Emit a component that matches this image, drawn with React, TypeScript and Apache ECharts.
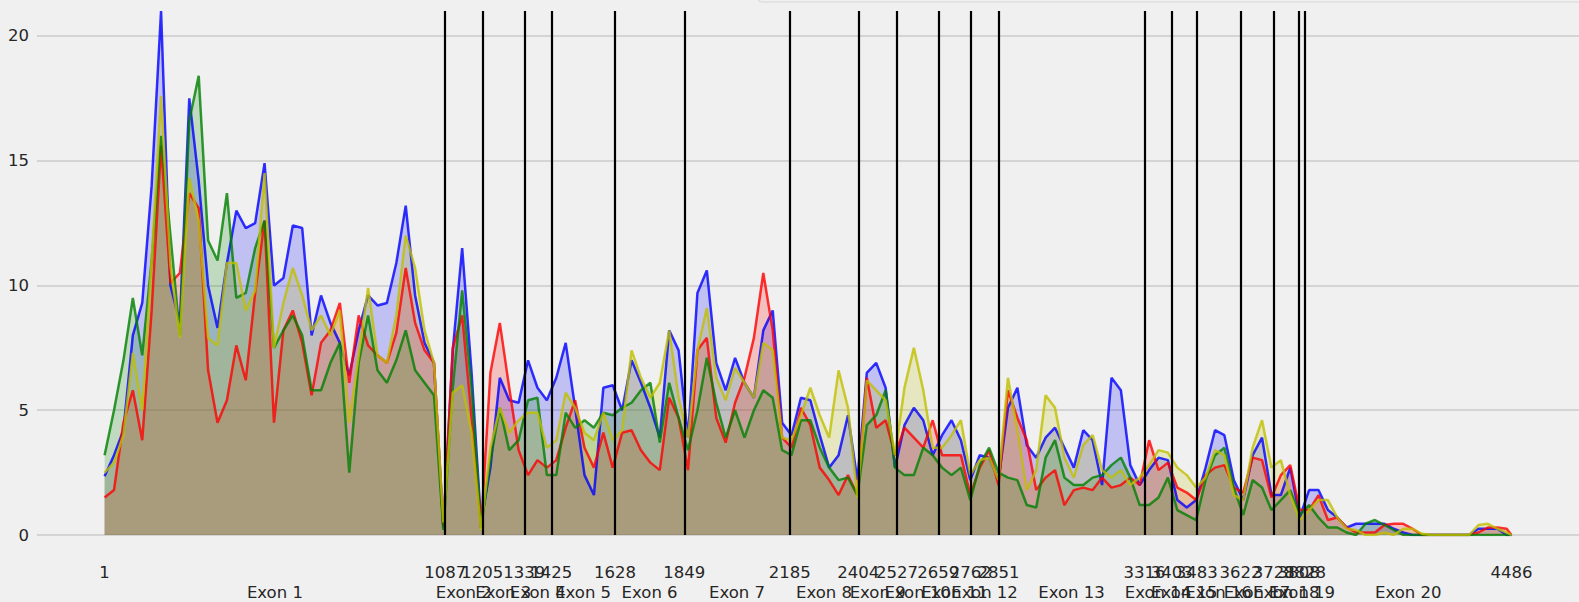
import React, { useEffect, useRef } from "react";
import * as echarts from "echarts";

// Sample positions (read grid, every 30 bp) plus last base
const positions: number[] = Array.from({ length: 150 }, (_, k) => 1 + 30 * k).concat([4486]);

const blueCov = [
  2.35, 3.2, 4.2, 8.0, 9.3, 14.0, 21.0, 10.0, 8.5, 17.5,
  14.2, 10.0, 8.3, 10.9, 13.0, 12.3, 12.5, 14.9, 10.0, 10.3,
  12.4, 12.3, 8.0, 9.6, 8.5, 7.7, 6.4, 8.2, 9.6, 9.2,
  9.3, 10.9, 13.2, 9.6, 7.7, 6.9, 0.3, 7.4, 11.5, 6.5,
  0.5, 2.7, 6.3, 5.4, 5.3, 7.0, 5.9, 5.4, 6.3, 7.7,
  5.1, 2.4, 1.6, 5.9, 6.0, 5.0, 7.0, 6.1, 5.1, 3.9,
  8.2, 7.4, 3.9, 9.7, 10.6, 6.9, 5.8, 7.1, 6.1, 5.5,
  8.2, 9.0, 4.5, 4.0, 5.5, 5.4, 4.0, 2.7, 3.2, 4.8,
  2.2, 6.5, 6.9, 5.9, 2.7, 4.4, 5.1, 4.6, 3.2, 4.0,
  4.6, 3.8, 2.2, 3.2, 3.1, 2.2, 5.1, 5.9, 3.6, 3.1,
  3.9, 4.3, 3.5, 2.7, 4.2, 3.8, 2.0, 6.3, 5.8, 2.8,
  2.0, 2.6, 3.1, 3.0, 1.4, 1.1, 1.4, 2.7, 4.2, 4.0,
  2.2, 1.4, 3.2, 3.9, 1.6, 1.6, 2.7, 0.7, 1.8, 1.8,
  1.0, 0.7, 0.3, 0.45, 0.45, 0.45, 0.45, 0.25, 0.1, 0,
  0, 0, 0, 0, 0, 0, 0.25, 0.25, 0.25, 0,
  0,
];

const redCov = [
  1.5, 1.8, 4.5, 5.8, 3.8, 9.0, 15.6, 10.1, 10.5, 13.7,
  13.1, 6.6, 4.5, 5.4, 7.6, 6.2, 9.7, 12.6, 4.5, 8.2,
  9.0, 7.7, 5.6, 7.7, 8.2, 9.3, 6.1, 8.8, 7.6, 7.2,
  6.9, 8.1, 10.7, 8.5, 7.4, 6.9, 0.3, 7.5, 8.8, 4.7,
  0.3, 6.5, 8.5, 5.9, 3.4, 2.4, 3.0, 2.7, 3.0, 4.3,
  5.4, 3.5, 2.7, 4.1, 2.7, 4.1, 4.2, 3.4, 2.9, 2.6,
  5.5, 4.7, 2.6, 7.4, 7.9, 4.7, 3.7, 5.3, 6.3, 7.9,
  10.5, 8.2, 3.9, 3.5, 5.1, 4.4, 2.7, 2.2, 1.6, 2.4,
  1.6, 6.3, 4.3, 4.6, 3.2, 4.3, 3.9, 3.5, 4.6, 3.2,
  3.2, 3.2, 1.6, 2.7, 3.4, 2.0, 5.8, 4.7, 3.8, 1.8,
  2.3, 2.6, 1.2, 1.8, 1.9, 1.8, 2.3, 1.9, 2.0, 2.3,
  2.0, 3.8, 2.6, 2.9, 1.9, 1.7, 1.4, 2.4, 2.7, 2.8,
  1.9, 1.7, 3.1, 3.0, 1.5, 2.4, 2.8, 1.0, 1.0, 1.6,
  0.6, 0.7, 0.3, 0.1, 0.1, 0.1, 0.4, 0.45, 0.45, 0.25,
  0, 0, 0, 0, 0, 0, 0.1, 0.3, 0.3, 0.25,
  0,
];

const greenCov = [
  3.2, 5.0, 7.0, 9.5, 7.2, 11.0, 16.0, 12.0, 8.0, 16.6,
  18.4, 11.8, 11.0, 13.7, 9.5, 9.7, 11.5, 12.6, 7.5, 8.2,
  8.8, 8.0, 5.8, 5.8, 6.9, 7.7, 2.5, 6.9, 8.8, 6.6,
  6.1, 7.0, 8.2, 6.6, 6.1, 5.6, 0.2, 5.9, 9.8, 5.9,
  0.3, 3.0, 5.1, 3.4, 3.8, 5.4, 5.5, 2.4, 2.4, 4.9,
  4.3, 4.6, 4.3, 4.9, 4.8, 5.1, 5.3, 5.8, 6.1, 3.7,
  6.1, 4.7, 3.4, 5.0, 7.1, 5.3, 3.9, 5.0, 3.9, 5.0,
  5.8, 5.5, 3.4, 3.2, 4.6, 4.6, 3.5, 2.7, 2.2, 2.3,
  1.6, 4.4, 4.8, 5.8, 2.7, 2.4, 2.4, 3.5, 3.2, 2.7,
  2.4, 2.7, 1.4, 2.8, 3.5, 2.5, 2.3, 2.2, 1.2, 1.1,
  3.1, 3.8, 2.3, 2.0, 2.0, 2.3, 2.4, 2.8, 3.1, 2.3,
  1.2, 1.2, 1.5, 2.3, 1.0, 0.8, 0.6, 2.2, 3.2, 3.5,
  1.9, 0.8, 2.2, 1.9, 1.0, 1.4, 1.8, 0.8, 1.2, 0.7,
  0.3, 0.3, 0.1, 0, 0.45, 0.6, 0.4, 0.2, 0, 0,
  0, 0, 0, 0, 0, 0, 0, 0, 0, 0,
  0,
];

const yellowCov = [
  2.5, 2.9, 4.0, 7.3, 5.0, 11.0, 17.6, 10.8, 7.9, 14.3,
  12.6, 7.9, 7.6, 10.9, 10.9, 9.0, 9.8, 14.5, 7.5, 9.3,
  10.7, 9.6, 8.2, 8.8, 8.0, 9.0, 4.5, 7.2, 9.9, 7.2,
  6.9, 8.8, 12.0, 10.7, 8.2, 6.9, 0.5, 5.7, 6.0, 4.1,
  0.2, 3.5, 5.1, 4.1, 4.6, 4.9, 4.9, 3.5, 3.8, 5.7,
  5.1, 4.1, 3.8, 4.9, 3.8, 4.2, 7.4, 6.3, 5.5, 6.1,
  8.2, 5.5, 3.9, 7.4, 9.1, 6.3, 5.4, 6.7, 6.1, 5.5,
  7.7, 7.4, 3.9, 3.8, 4.8, 5.9, 4.8, 3.9, 6.6, 5.1,
  1.5, 6.2, 5.8, 5.4, 3.2, 5.9, 7.5, 5.8, 3.5, 3.5,
  4.0, 4.6, 2.4, 3.0, 3.1, 2.2, 6.3, 4.2, 1.8, 2.6,
  5.6, 5.1, 3.1, 2.3, 3.6, 4.0, 2.6, 2.3, 2.6, 2.0,
  2.3, 2.8, 3.4, 3.3, 2.7, 2.4, 1.9, 2.3, 3.4, 3.2,
  1.6, 1.4, 3.5, 4.6, 2.7, 3.0, 1.6, 0.6, 1.0, 1.4,
  1.4, 0.7, 0.25, 0.2, 0, 0, 0.1, 0, 0.25, 0.25,
  0.05, 0, 0, 0, 0, 0, 0.4, 0.45, 0.25, 0.1,
  0,
];

const exonBoundaries = [
  1, 1087, 1205, 1339, 1425, 1628, 1849, 2185, 2404, 2527, 2659,
  2762, 2851, 3316, 3403, 3483, 3622, 3728, 3808, 3828, 4486,
];
const exonNames = exonBoundaries.slice(1).map((_, i) => `Exon ${i + 1}`);

const seriesDefs = [
  { name: "blue", color: "#0000ff", values: blueCov },
  { name: "red", color: "#ff0000", values: redCov },
  { name: "green", color: "#008000", values: greenCov },
  { name: "yellow", color: "#bfbf00", values: yellowCov },
];

const X_MIN = -214.5;
const X_MAX = 4701.5;
const Y_MAX = 21.44;
const FONT = "DejaVu Sans";
const TXT = "#262626";

export default function App() {
  const ref = useRef<HTMLDivElement>(null);
  useEffect(() => {
    if (!ref.current) return;
    const chart = echarts.init(ref.current, null, { renderer: "svg" });
    const midpoints = exonNames.map((_, i) => (exonBoundaries[i] + exonBoundaries[i + 1]) / 2);
    const vlineTop = Math.max(...blueCov, ...redCov, ...greenCov, ...yellowCov);
    const inner = exonBoundaries.slice(1, -1);
    const gridBox = { left: 37, right: 0, top: 0, bottom: 67, containLabel: false };
    const series: any[] = [];
    // fills first (below every line), then lines
    seriesDefs.forEach((s, idx) => {
      series.push({
        type: "line",
        name: s.name + "-fill",
        data: positions.map((p, i) => [p, s.values[i]]),
        showSymbol: false,
        symbol: "none",
        xAxisIndex: 0,
        yAxisIndex: 0,
        lineStyle: { width: 0, opacity: 0 },
        itemStyle: { color: s.color },
        areaStyle: { color: s.color, opacity: 0.2 },
        emphasis: { disabled: true },
        silent: true,
        z: 1 + idx * 0.01,
      });
    });
    seriesDefs.forEach((s, idx) => {
      series.push({
        type: "line",
        name: s.name,
        data: positions.map((p, i) => [p, s.values[i]]),
        showSymbol: false,
        symbol: "none",
        xAxisIndex: 0,
        yAxisIndex: 0,
        lineStyle: { color: s.color, width: 2.5, opacity: 0.8 },
        itemStyle: { color: s.color },
        emphasis: { disabled: true },
        silent: true,
        z: 2 + idx * 0.01,
      });
    });
    series.push({
      type: "line",
      name: "bounds",
      data: [],
      xAxisIndex: 0,
      yAxisIndex: 0,
      z: 5,
      silent: true,
      markLine: {
        silent: true,
        symbol: ["none", "none"],
        label: { show: false },
        lineStyle: { color: "#000000", width: 2.2, type: "solid", opacity: 1 },
        emphasis: { disabled: true },
        data: inner.map((b) => [{ coord: [b, 0] }, { coord: [b, vlineTop] }]),
      },
    });
    const labelStyle = { fontFamily: FONT, fontSize: 16.5, color: TXT };
    chart.setOption({
      animation: false,
      backgroundColor: "#f0f0f0",
      grid: [gridBox, gridBox],
      xAxis: [
        {
          type: "value",
          gridIndex: 0,
          min: X_MIN,
          max: X_MAX,
          position: "bottom",
          axisLine: { show: false },
          axisTick: { show: false },
          splitLine: { show: false },
          axisLabel: {
            ...labelStyle,
            margin: 29,
            customValues: exonBoundaries,
            formatter: (v: number) => String(Math.round(v)),
          },
        },
        {
          type: "value",
          gridIndex: 1,
          min: X_MIN,
          max: X_MAX,
          position: "bottom",
          axisLine: { show: false },
          axisTick: { show: false },
          splitLine: { show: false },
          axisLabel: {
            ...labelStyle,
            margin: 49,
            customValues: midpoints,
            formatter: (v: number) => {
              let best = 0;
              for (let i = 1; i < midpoints.length; i++) {
                if (Math.abs(midpoints[i] - v) < Math.abs(midpoints[best] - v)) best = i;
              }
              return exonNames[best];
            },
          },
        },
      ],
      yAxis: [
        {
          type: "value",
          gridIndex: 0,
          min: 0,
          max: Y_MAX,
          interval: 5,
          axisLine: { show: false },
          axisTick: { show: false },
          splitLine: {
            show: true,
            showMaxLine: false,
            lineStyle: { color: "#cbcbcb", width: 1.5 },
          },
          axisLabel: { ...labelStyle, margin: 8, showMaxLabel: false },
        },
        { type: "value", gridIndex: 1, min: 0, max: Y_MAX, show: false },
      ],
      graphic: [
        {
          type: "rect",
          shape: { x: 758, y: -30, width: 900, height: 32, r: 4 },
          style: { fill: "#f0f0f0", stroke: "#d6d6d6", lineWidth: 1 },
          z: 100,
          silent: true,
        },
      ],
      series,
    });
    return () => chart.dispose();
  }, []);
  return (
    <div
      ref={ref}
      style={{ position: "fixed", left: 0, top: 0, width: 1579, height: 602 }}
    />
  );
}
